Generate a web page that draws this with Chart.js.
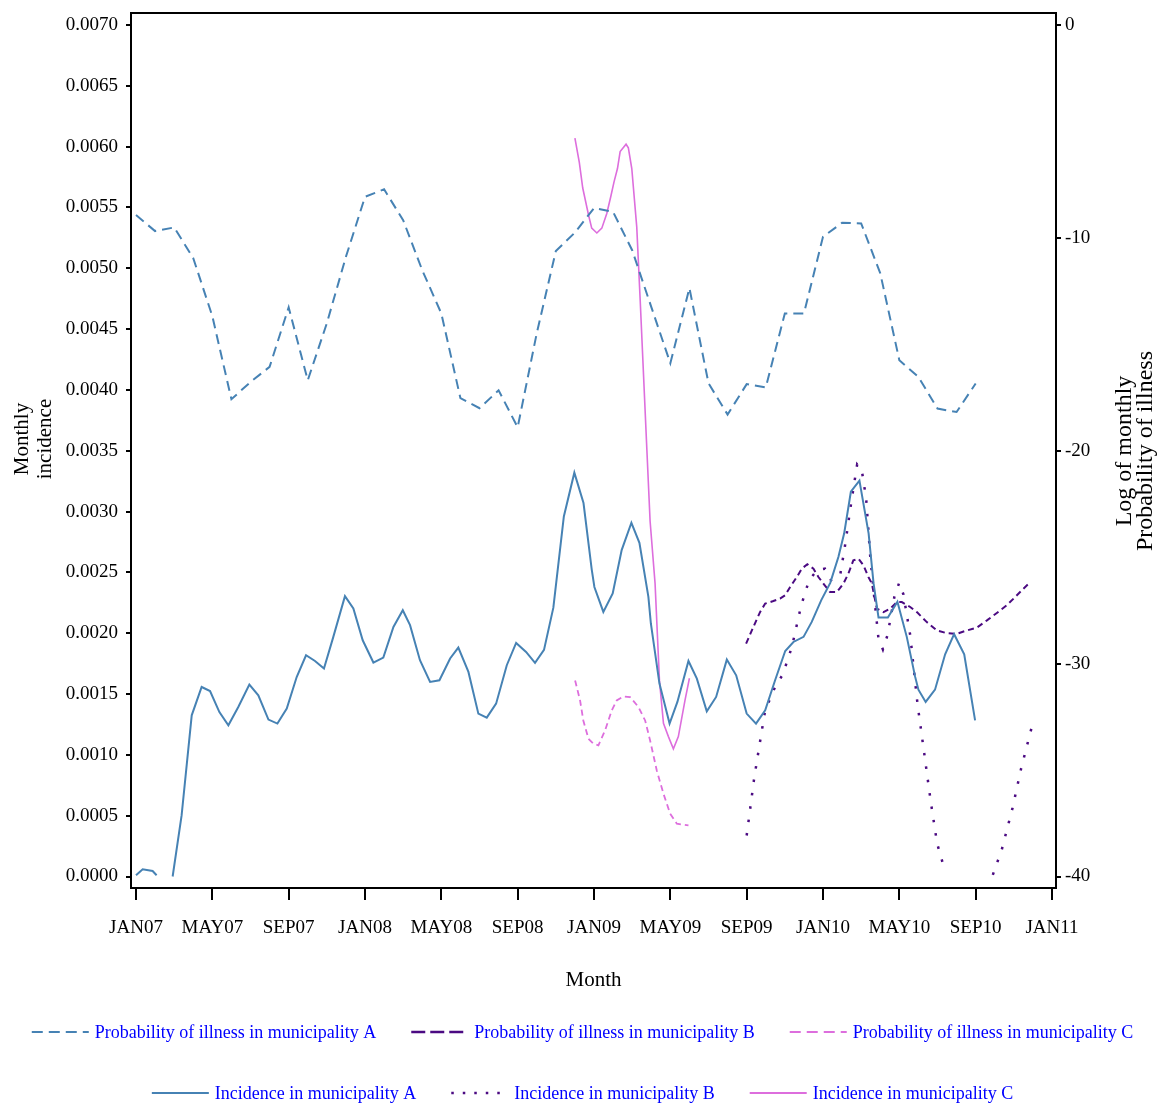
<!DOCTYPE html>
<html>
<head>
<meta charset="utf-8">
<script src="https://cdn.jsdelivr.net/npm/chart.js@4.4.1/dist/chart.umd.min.js"></script>
<style>
html,body{margin:0;padding:0;background:#ffffff;}
#wrap{width:1159px;height:1107px;position:relative;}
</style>
</head>
<body>
<div id="wrap"><canvas id="c" width="1159" height="1107"></canvas></div>
<script>
// ---------- tick labels ----------
const xTickValues = [0, 4, 8, 12, 16, 20, 24, 28, 32, 36, 40, 44, 48]; // months since JAN07
const xTickLabels = ['JAN07','MAY07','SEP07','JAN08','MAY08','SEP08','JAN09','MAY09','SEP09','JAN10','MAY10','SEP10','JAN11'];
const leftTickValues = [0,0.0005,0.001,0.0015,0.002,0.0025,0.003,0.0035,0.004,0.0045,0.005,0.0055,0.006,0.0065,0.007];
const rightTickValues = [-40, -30, -20, -10, 0];

// ---------- Probability of illness in municipality A (log, right axis) ----------
const probA_month = [0,1,2,3,4,5,6,7,8,9,10,11,12,13,14,15,16,17,18,19,20,21,22,23,24,25,26,27,28,29,30,31,32,33,34,35,36,37,38,39,40,41,42,43,44];
const probA_value = [-8.93,-9.68,-9.51,-10.95,-13.68,-17.58,-16.77,-16.06,-13.26,-16.69,-14.01,-10.89,-8.07,-7.72,-9.17,-11.52,-13.55,-17.53,-18.0,-17.16,-18.9,-14.48,-10.62,-9.75,-8.6,-8.78,-10.58,-13.24,-15.89,-12.36,-16.83,-18.3,-16.87,-17.03,-13.55,-13.55,-9.95,-9.29,-9.32,-11.66,-15.75,-16.53,-18.02,-18.18,-16.84];

// ---------- Probability of illness in municipality B (log, right axis) ----------
const probB_month = [31.97,32.35,32.7,32.97,33.4,33.75,34.01,34.28,34.63,34.89,35.18,35.5,35.76,36.02,36.37,36.72,37.07,37.33,37.59,37.86,38.12,38.38,38.56,38.82,39.17,39.52,39.87,40.13,40.57,40.92,41.44,41.97,42.49,43.01,43.54,44.06,44.59,45.11,45.63,46.16,46.5,46.86];
const probB_value = [-29.06,-28.28,-27.58,-27.18,-27.06,-26.95,-26.79,-26.4,-25.93,-25.54,-25.33,-25.54,-25.93,-26.24,-26.64,-26.64,-26.24,-25.77,-25.15,-25.07,-25.38,-25.93,-26.24,-27.42,-27.58,-27.42,-27.11,-27.11,-27.34,-27.58,-28.05,-28.44,-28.57,-28.6,-28.44,-28.31,-27.97,-27.62,-27.26,-26.79,-26.48,-26.17];

// ---------- Probability of illness in municipality C (log, right axis) ----------
const probC_month = [23.01,23.27,23.44,23.71,23.97,24.23,24.58,24.93,25.19,25.54,25.89,26.33,26.68,26.94,27.29,27.64,27.99,28.34,28.95];
const probC_value = [-30.79,-31.73,-32.67,-33.53,-33.76,-33.84,-33.14,-32.2,-31.73,-31.54,-31.57,-32.04,-32.67,-33.61,-35.02,-36.11,-37.05,-37.52,-37.6];

// ---------- Incidence in municipality A (left axis) ----------
const incA_month = [0,0.35,0.87,1.08,1.5,1.92,2.39,2.92,3.44,3.88,4.37,4.84,5.36,5.94,6.41,6.94,7.41,7.9,8.42,8.91,9.38,9.85,10.34,10.95,11.39,11.88,12.44,12.96,13.49,13.98,14.36,14.88,15.41,15.9,16.46,16.89,17.42,17.94,18.38,18.87,19.43,19.92,20.44,20.91,21.38,21.87,22.42,22.97,23.45,23.88,24.02,24.49,24.98,25.45,25.96,26.38,26.85,26.98,27.43,27.96,28.37,28.95,29.39,29.91,30.4,30.96,31.45,32.0,32.49,32.97,33.49,34.02,34.45,34.98,35.41,35.91,36.38,36.81,37.11,37.46,37.91,38.39,38.65,38.91,39.4,39.9,40.39,40.83,41.0,41.38,41.87,42.4,42.87,43.4,43.97];
const incA_value = [0.00001,0.00006,0.000045,0.00001,null,0.0,0.000502,0.001325,0.001558,0.001525,0.001352,0.001243,0.001393,0.001578,0.00149,0.00129,0.001257,0.00138,0.00164,0.001819,0.001772,0.001709,0.00197,0.002305,0.002203,0.001942,0.001759,0.0018,0.002052,0.002189,0.002066,0.001778,0.001599,0.001613,0.001792,0.001882,0.001682,0.001339,0.001306,0.001421,0.001737,0.00192,0.001846,0.001756,0.001863,0.00221,0.00296,0.00332,0.00307,0.002525,0.00238,0.002175,0.002327,0.002683,0.002908,0.002743,0.002299,0.00208,0.001586,0.001257,0.001435,0.001772,0.001627,0.001358,0.001476,0.001783,0.001654,0.001339,0.001257,0.001366,0.001613,0.001854,0.001928,0.00197,0.002093,0.002272,0.002414,0.002628,0.002821,0.003163,0.003254,0.002821,0.002409,0.002129,0.002129,0.002258,0.00197,0.001641,0.001536,0.001435,0.001536,0.001827,0.001992,0.001827,0.001284];

// ---------- Incidence in municipality B (left axis) ----------
const incB_month = [32.0,32.39,32.74,32.97,33.49,33.89,34.37,34.85,35.27,35.7,36.1,36.42,36.9,37.15,37.46,37.79,38.03,38.26,38.47,38.68,38.9,39.14,39.38,39.74,39.99,40.21,40.57,40.95,41.26,41.65,41.98,42.36,43.6,44.9,45.37,45.93,46.38,46.94];
const incB_value = [0.000337,0.000804,0.001147,0.001366,0.001558,0.00166,0.001887,0.002225,0.002436,0.00252,0.00253,0.002436,0.002477,0.002716,0.003053,0.003388,0.003342,0.003109,0.002642,0.002305,0.001965,0.001866,0.001984,0.002299,0.002414,0.002321,0.001984,0.001421,0.001064,0.000612,0.000272,0.000063,null,0.000014,0.000222,0.000562,0.000886,0.001229];

// ---------- Incidence in municipality C (left axis) ----------
const incC_month = [23.0,23.23,23.41,23.71,23.88,24.15,24.41,24.67,24.88,25.05,25.23,25.37,25.68,25.8,25.98,26.24,26.42,26.77,26.94,27.2,27.43,27.64,27.9,28.16,28.42,28.77,29.0];
const incC_value = [0.00607,0.00587,0.00566,0.00544,0.00533,0.00529,0.00533,0.00545,0.00559,0.00571,0.00582,0.00596,0.00602,0.00599,0.00582,0.00534,0.00474,0.00351,0.00292,0.00241,0.00161,0.00126,0.00115,0.00105,0.00115,0.00145,0.00163];

// ---------- series labels ----------
const seriesLabels = [
  'Probability of illness in municipality A',
  'Probability of illness in municipality B',
  'Probability of illness in municipality C',
  'Incidence in municipality A',
  'Incidence in municipality B',
  'Incidence in municipality C'
];

const COL_A = '#4682B4';
const COL_B = '#4B0A82';
const COL_C = '#DD6EDD';
const FONT = '"Liberation Serif", "Times New Roman", serif';

function pts(xs, ys) { return xs.map((x, i) => ({ x: x, y: ys[i] })); }

const legendSamples = [
  { color: COL_A, dash: [11, 6], width: 2 },
  { color: COL_B, dash: [14, 5], width: 2.5 },
  { color: COL_C, dash: [11, 6], width: 2 },
  { color: COL_A, dash: [], width: 2 },
  { color: COL_B, dash: [2.5, 9], width: 2.5 },
  { color: COL_C, dash: [], width: 2 }
];

const framePlugin = {
  id: 'frameAndText',
  afterDraw(chart) {
    const ctx = chart.ctx;
    const a = chart.chartArea;
    ctx.save();
    // frame
    ctx.strokeStyle = '#000';
    ctx.lineWidth = 2;
    ctx.setLineDash([]);
    ctx.strokeRect(a.left, a.top, a.right - a.left, a.bottom - a.top);
    // left rotated title
    ctx.fillStyle = '#000';
    ctx.textAlign = 'center';
    ctx.textBaseline = 'middle';
    ctx.font = '21px ' + FONT;
    [['Monthly', 22], ['incidence', 45]].forEach(([t, x]) => {
      ctx.save(); ctx.translate(x, 439); ctx.rotate(-Math.PI / 2); ctx.fillText(t, 0, 0); ctx.restore();
    });
    // right rotated title
    ctx.font = '24px ' + FONT;
    [['Log of monthly', 1125], ['Probability of illness', 1146]].forEach(([t, x]) => {
      ctx.save(); ctx.translate(x, 451); ctx.rotate(-Math.PI / 2); ctx.fillText(t, 0, 0); ctx.restore();
    });
    // legend
    ctx.font = '18px ' + FONT;
    ctx.textAlign = 'left';
    const sampleW = 57, gapT = 6, gapItem = 35, cx = 582.5;
    const rows = [[0, 1, 2, 1032], [3, 4, 5, 1093]];
    rows.forEach(r => {
      const idx = r.slice(0, 3), y = r[3];
      const widths = idx.map(i => sampleW + gapT + ctx.measureText(seriesLabels[i]).width);
      const total = widths.reduce((s, w) => s + w, 0) + gapItem * (idx.length - 1);
      let x = cx - total / 2;
      idx.forEach((i, k) => {
        const s = legendSamples[i];
        ctx.save();
        ctx.strokeStyle = s.color;
        ctx.lineWidth = s.width;
        ctx.setLineDash(s.dash);
        ctx.beginPath();
        ctx.moveTo(x, y); ctx.lineTo(x + sampleW, y);
        ctx.stroke();
        ctx.restore();
        ctx.fillStyle = '#0000FF';
        ctx.fillText(seriesLabels[i], x + sampleW + gapT, y + 1);
        x += widths[k] + gapItem;
      });
    });
    ctx.restore();
  }
};

const PX_PER_MONTH = (1052 - 136) / 48;
const X_MIN = -(136 - 131) / PX_PER_MONTH;
const X_MAX = 48 + (1056 - 1052) / PX_PER_MONTH;
const LPX = 851.5 / 0.007;
const Y_MIN = -11.5 / LPX;
const Y_MAX = 0.007 + 12 / LPX;
const RPX = 851.5 / 40;
const R_MIN = -40 - 11.5 / RPX;
const R_MAX = 12 / RPX;

const tickFont = { family: FONT, size: 19 };

function fitVertical(width) {
  return s => { s.width = width; s.paddingTop = 0; s.paddingBottom = 0; };
}

new Chart(document.getElementById('c'), {
  type: 'line',
  data: {
    datasets: [
      { label: seriesLabels[3], data: pts(incA_month, incA_value), yAxisID: 'y', borderColor: COL_A, borderWidth: 2, borderDash: [] },
      { label: seriesLabels[0], data: pts(probA_month, probA_value), yAxisID: 'y2', borderColor: COL_A, borderWidth: 2, borderDash: [10, 6] },
      { label: seriesLabels[4], data: pts(incB_month, incB_value), yAxisID: 'y', borderColor: COL_B, borderWidth: 2.5, borderDash: [2.5, 11] },
      { label: seriesLabels[1], data: pts(probB_month, probB_value), yAxisID: 'y2', borderColor: COL_B, borderWidth: 2, borderDash: [6, 4] },
      { label: seriesLabels[5], data: pts(incC_month, incC_value), yAxisID: 'y', borderColor: COL_C, borderWidth: 1.6, borderDash: [] },
      { label: seriesLabels[2], data: pts(probC_month, probC_value), yAxisID: 'y2', borderColor: COL_C, borderWidth: 1.8, borderDash: [6, 4] }
    ].map(d => Object.assign({ pointRadius: 0, pointHoverRadius: 0, tension: 0, fill: false, spanGaps: false, backgroundColor: 'transparent' }, d))
  },
  options: {
    responsive: false,
    animation: false,
    devicePixelRatio: 1,
    events: [],
    layout: { padding: { top: 13, left: 0, right: 0, bottom: 0 } },
    plugins: { legend: { display: false }, tooltip: { enabled: false }, title: { display: false } },
    scales: {
      x: {
        type: 'linear', position: 'bottom', min: X_MIN, max: X_MAX,
        afterBuildTicks: s => { s.ticks = xTickValues.map(v => ({ value: v })); },
        afterFit: s => { s.height = 219; s.paddingLeft = 0; s.paddingRight = 0; },
        ticks: { autoSkip: false, maxRotation: 0, minRotation: 0, padding: 17, color: '#000', font: tickFont,
                 callback: (v, i) => xTickLabels[i] },
        grid: { drawOnChartArea: false, drawTicks: true, tickLength: 12, color: '#000', lineWidth: 2 },
        border: { display: true, color: '#000', width: 2 },
        title: { display: true, text: 'Month', color: '#000', font: { family: FONT, size: 21 }, padding: { top: 0, bottom: 114 } }
      },
      y: {
        type: 'linear', position: 'left', min: Y_MIN, max: Y_MAX,
        afterBuildTicks: s => { s.ticks = leftTickValues.map(v => ({ value: v })); },
        afterFit: fitVertical(131),
        ticks: { autoSkip: false, padding: 8, color: '#000', font: tickFont, callback: v => Number(v).toFixed(4) },
        grid: { drawOnChartArea: false, drawTicks: true, tickLength: 5, color: '#000', lineWidth: 2 },
        border: { display: true, color: '#000', width: 2 }
      },
      y2: {
        type: 'linear', position: 'right', min: R_MIN, max: R_MAX,
        afterBuildTicks: s => { s.ticks = rightTickValues.map(v => ({ value: v })); },
        afterFit: fitVertical(103),
        ticks: { autoSkip: false, padding: 4, color: '#000', font: tickFont, callback: v => String(Math.round(v)) },
        grid: { drawOnChartArea: false, drawTicks: true, tickLength: 5, color: '#000', lineWidth: 2 },
        border: { display: true, color: '#000', width: 2 }
      }
    }
  },
  plugins: [framePlugin]
});
</script>
</body>
</html>
